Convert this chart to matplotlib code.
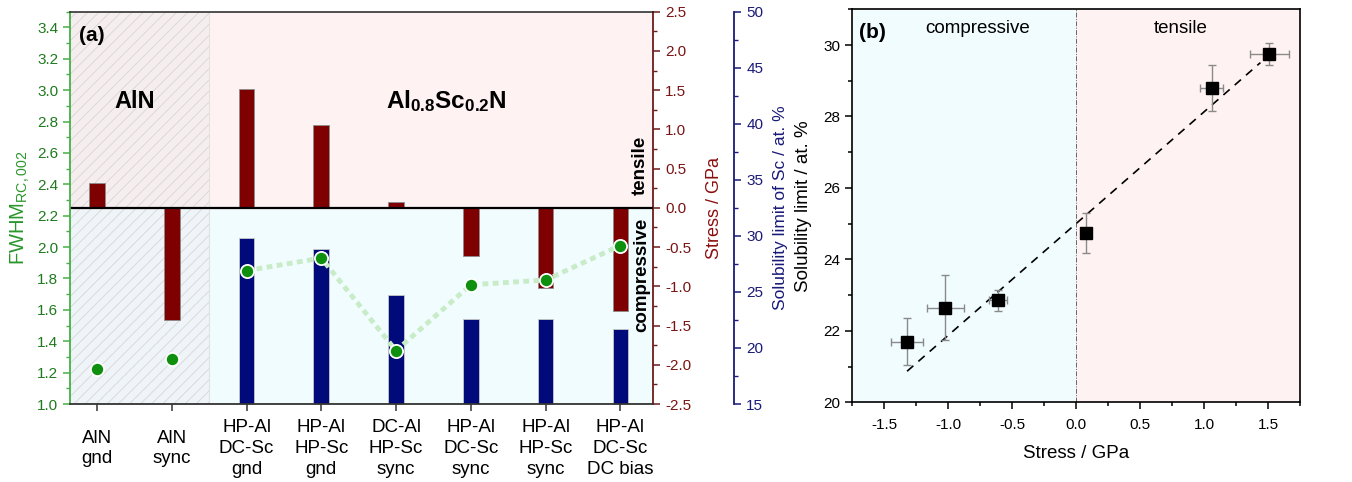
import matplotlib
matplotlib.use('Agg')
import matplotlib.pyplot as plt
from matplotlib.ticker import MultipleLocator

plt.rcParams['font.family'] = ['Liberation Sans', 'DejaVu Sans']
plt.rcParams['mathtext.fontset'] = 'custom'
plt.rcParams['mathtext.rm'] = 'Liberation Sans'
plt.rcParams['mathtext.it'] = 'Liberation Sans:italic'
plt.rcParams['mathtext.bf'] = 'Liberation Sans:bold'
plt.rcParams['hatch.linewidth'] = 0.6
plt.rcParams['hatch.color'] = '#d6d6d6'
plt.rcParams['axes.unicode_minus'] = False

# ---------------- data: panel (a) ----------------
samples = ['AlN\ngnd', 'AlN\nsync', 'HP-Al\nDC-Sc\ngnd', 'HP-Al\nHP-Sc\ngnd',
           'DC-Al\nHP-Sc\nsync', 'HP-Al\nDC-Sc\nsync', 'HP-Al\nHP-Sc\nsync',
           'HP-Al\nDC-Sc\nDC bias']
stress_gpa = [0.32, -1.43, 1.51, 1.06, 0.08, -0.61, -1.02, -1.32]
fwhm_rc = [1.22, 1.29, 1.85, 1.93, 1.34, 1.76, 1.79, 2.01]
sc_samples = samples[2:]
sc_solubility = [29.8, 28.8, 24.75, 22.6, 22.6, 21.7]

# ---------------- data: panel (b) ----------------
stress_b = [-1.32, -1.02, -0.61, 0.08, 1.06, 1.51]
stress_b_err = [0.125, 0.145, 0.07, 0.0, 0.09, 0.15]
solub_b = [21.7, 22.65, 22.85, 24.75, 28.8, 29.75]
solub_b_err = [0.65, 0.9, 0.3, 0.56, 0.65, 0.3]
fit_slope = 3.13
fit_intercept = 25.0
fit_x = [-1.32, 1.44]

GREEN_SP = '#45b045'
GREEN_TX = '#1f7a1f'
GREEN_LB = '#2a962a'
RED_SP = '#6e1a1a'
RED_TX = '#7a1414'
NAVY = '#1a1a78'

fig = plt.figure(figsize=(13.52, 4.82), dpi=100)

# ================= panel (a) =================
axf = fig.add_axes([0.0518, 0.1618, 0.4314, 0.8139])
axs = axf.twinx()
axl = axf.twinx()
axf.set_zorder(3)
axf.patch.set_visible(False)
axs.set_zorder(1)
axl.set_zorder(2)
axl.patch.set_visible(False)

pos = list(range(1, len(samples) + 1))
sc_pos = pos[2:]
xl = (0.64, 8.44)
axf.set_xlim(*xl)

axs.set_ylim(-2.5, 2.5)
axl.set_ylim(15, 50)
axf.set_ylim(1.0, 3.5)

# backgrounds
axs.fill_between([xl[0], 2.5], 0, 2.5, facecolor='#f6eeee', edgecolor='#d6d6d6',
                 hatch='///', linewidth=0, zorder=0)
axs.fill_between([xl[0], 2.5], -2.5, 0, facecolor='#eef4f7', edgecolor='#d6d6d6',
                 hatch='///', linewidth=0, zorder=0)
axs.fill_between([2.5, xl[1]], 0, 2.5, facecolor='#fef2f2', linewidth=0, zorder=0)
axs.fill_between([2.5, xl[1]], -2.5, 0, facecolor='#f1fcfe', linewidth=0, zorder=0)
axs.axvline(2.5, color='#e2e2e2', lw=0.8, zorder=0.5)

axs.bar(pos, stress_gpa, width=0.21, color='#7f0000', edgecolor='#8c8c8c',
        linewidth=0.6, zorder=2)
axs.axhline(0, color='black', lw=1.6, zorder=3)
axl.bar(sc_pos, [v - 15 for v in sc_solubility], bottom=15, width=0.21,
        color='#000a7a', edgecolor='#c8c8c8', linewidth=0.6, zorder=2)

axf.plot(sc_pos, fwhm_rc[2:], color='#c8ecc8', lw=3.5, ls=(0, (1.2, 0.9)),
         zorder=2)
axf.plot(pos, fwhm_rc, ls='none', marker='o', ms=9.5, mfc='#0e900e',
         mec='white', mew=1.3, zorder=4)
axf.set_xlim(*xl)

# spines / ticks
for a in (axf, axs, axl):
    for s in a.spines.values():
        s.set_visible(False)
axf.spines['left'].set_visible(True)
axf.spines['left'].set_color(GREEN_SP)
axf.spines['left'].set_linewidth(1.3)
axf.spines['bottom'].set_visible(True)
axf.spines['bottom'].set_color('#333333')
axf.spines['bottom'].set_linewidth(1.3)
axf.spines['top'].set_visible(True)
axf.spines['top'].set_color('#222222')
axf.spines['top'].set_linewidth(1.1)
axs.spines['right'].set_visible(True)
axs.spines['right'].set_color(RED_SP)
axs.spines['right'].set_linewidth(1.3)
axl.spines['right'].set_visible(True)
axl.spines['right'].set_position(('axes', 1.139))
axl.spines['right'].set_color(NAVY)
axl.spines['right'].set_linewidth(1.3)

axf.set_yticks([1.0 + 0.2 * i for i in range(13)])
axf.set_yticklabels([f'{1.0 + 0.2 * i:.1f}' for i in range(13)])
axf.yaxis.set_minor_locator(MultipleLocator(0.1))
axf.tick_params(axis='y', which='both', colors=GREEN_SP, labelcolor=GREEN_TX,
                labelsize=11, direction='out')
axf.tick_params(axis='y', which='major', length=5, width=1.1)
axf.tick_params(axis='y', which='minor', length=3, width=1.0)

axf.set_xticks(pos)
axf.set_xticklabels(samples, fontsize=13.5, linespacing=1.3)
for t in axf.get_xticklabels():
    t.set_verticalalignment('center')
axf.tick_params(axis='x', which='both', length=5, width=1.1, color='#333333',
                pad=27)

axs.yaxis.set_major_locator(MultipleLocator(0.5))
axs.yaxis.set_minor_locator(MultipleLocator(0.25))
axs.tick_params(axis='y', which='both', colors=RED_SP, labelcolor=RED_TX,
                labelsize=11, direction='out')
axs.tick_params(axis='y', which='major', length=5, width=1.1)
axs.tick_params(axis='y', which='minor', length=3, width=1.0)

axl.yaxis.set_major_locator(MultipleLocator(5))
axl.yaxis.set_minor_locator(MultipleLocator(2.5))
axl.tick_params(axis='y', which='both', colors=NAVY, labelcolor=NAVY,
                labelsize=11, direction='out')
axl.tick_params(axis='y', which='major', length=5, width=1.1)
axl.tick_params(axis='y', which='minor', length=3, width=1.0)

axf.set_ylabel(r'FWHM$_{\mathrm{RC,002}}$', fontsize=14.5, color=GREEN_LB,
               labelpad=4)
axs.set_ylabel('Stress / GPa', fontsize=13, color='#8b1010', labelpad=11)
axl.set_ylabel('Solubility limit of Sc / at. %', fontsize=12.5, color=NAVY,
               labelpad=7)

axf.text(0.0155, 0.94, '(a)', transform=axf.transAxes, fontsize=15,
         fontweight='bold', ha='left', va='center')
axf.text(1.5, 2.93, 'AlN', fontsize=17, fontweight='bold', ha='center',
         va='center')
axf.text(5.67, 2.93, r'Al$_{\mathbf{0.8}}$Sc$_{\mathbf{0.2}}$N', fontsize=17.5,
         fontweight='bold', ha='center', va='center')
axs.text(8.27, 0.54, 'tensile', fontsize=13.5, fontweight='bold', rotation=90,
         ha='center', va='center', zorder=5)
axs.text(8.28, -0.85, 'compressive', fontsize=13.5, fontweight='bold',
         rotation=90, ha='center', va='center', zorder=5)

# ================= panel (b) =================
axb = fig.add_axes([0.6302, 0.1654, 0.3314, 0.8153])
axb.set_xlim(-1.75, 1.75)
axb.set_ylim(20, 31)
axb.axvspan(-1.75, 0, color='#f0fcfe', lw=0, zorder=0)
axb.axvspan(0, 1.75, color='#fef3f2', lw=0, zorder=0)
axb.axvline(0, color='#666666', lw=0.7, ls=(0, (5, 1.5, 1, 1.5)), zorder=1)

axb.plot(fit_x, [fit_slope * x + fit_intercept for x in fit_x], color='black',
         lw=1.2, ls=(0, (5, 4)), zorder=2)
axb.errorbar(stress_b, solub_b, xerr=stress_b_err, yerr=solub_b_err, fmt='s',
             color='black', ms=8, ecolor='#8a8a8a', elinewidth=1.0, capsize=3,
             capthick=1.0, zorder=3)

axb.xaxis.set_major_locator(MultipleLocator(0.5))
axb.xaxis.set_minor_locator(MultipleLocator(0.25))
axb.yaxis.set_major_locator(MultipleLocator(2))
axb.yaxis.set_minor_locator(MultipleLocator(1))
axb.tick_params(which='both', direction='out', labelsize=11, width=1.1)
axb.tick_params(which='major', length=5)
axb.tick_params(which='minor', length=3)
axb.tick_params(axis='x', pad=6)
for s in axb.spines.values():
    s.set_linewidth(1.2)
axb.set_xlabel('Stress / GPa', fontsize=13.5, labelpad=10)
axb.set_ylabel('Solubility limit / at. %', fontsize=13.5, labelpad=8)

axb.text(0.016, 0.942, '(b)', transform=axb.transAxes, fontsize=15,
         fontweight='bold', ha='left', va='center')
axb.text(-0.77, 30.45, 'compressive', fontsize=13.5, ha='center', va='center')
axb.text(0.82, 30.45, 'tensile', fontsize=13.5, ha='center', va='center')

fig.savefig('out.png', dpi=100)
